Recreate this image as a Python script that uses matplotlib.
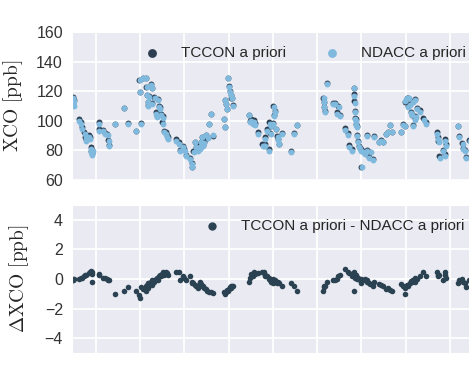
import numpy as np
import matplotlib
matplotlib.use("Agg")
import matplotlib.pyplot as plt
import seaborn as sns

# decimal year of each observation
dates = [2011.735, 2011.74, 2011.745, 2011.75, 2011.81, 2011.83, 2011.84, 2011.87,
         2011.88, 2011.89, 2011.92, 2011.93, 2011.94, 2011.945, 2011.95, 2011.955,
         2011.96, 2012.03, 2012.035, 2012.08, 2012.10, 2012.13, 2012.14, 2012.145,
         2012.21, 2012.32, 2012.36, 2012.45, 2012.49, 2012.495, 2012.51, 2012.53,
         2012.56, 2012.57, 2012.58, 2012.585, 2012.59, 2012.60, 2012.62, 2012.63,
         2012.635, 2012.66, 2012.68, 2012.69, 2012.70, 2012.71, 2012.72, 2012.73,
         2012.75, 2012.76, 2012.77, 2012.79, 2012.80, 2012.81, 2012.90, 2012.94,
         2012.95, 2012.98, 2013.00, 2013.02, 2013.06, 2013.08, 2013.085, 2013.10,
         2013.12, 2013.13, 2013.14, 2013.15, 2013.16, 2013.17, 2013.18, 2013.19,
         2013.20, 2013.21, 2013.22, 2013.24, 2013.26, 2013.28, 2013.30, 2013.32,
         2013.45, 2013.455, 2013.46, 2013.47, 2013.48, 2013.49, 2013.50, 2013.51,
         2013.52, 2013.53, 2013.54, 2013.55, 2013.73, 2013.74, 2013.75, 2013.77,
         2013.78, 2013.80, 2013.83, 2013.88, 2013.90, 2013.905, 2013.91, 2013.93,
         2013.95, 2013.96, 2013.97, 2013.98, 2014.00, 2014.005, 2014.01, 2014.02,
         2014.03, 2014.05, 2014.06, 2014.07, 2014.10, 2014.20, 2014.24, 2014.27,
         2014.57, 2014.575, 2014.58, 2014.585, 2014.61, 2014.68, 2014.70, 2014.72,
         2014.74, 2014.76, 2014.81, 2014.85, 2014.86, 2014.89, 2014.91, 2014.915,
         2014.92, 2014.925, 2014.93, 2014.935, 2014.94, 2014.945, 2014.95, 2014.96,
         2014.97, 2014.98, 2014.99, 2015.00, 2015.02, 2015.04, 2015.06, 2015.065,
         2015.08, 2015.10, 2015.13, 2015.14, 2015.20, 2015.22, 2015.24, 2015.28,
         2015.30, 2015.32, 2015.34, 2015.45, 2015.47, 2015.49, 2015.495, 2015.51,
         2015.52, 2015.53, 2015.55, 2015.56, 2015.57, 2015.58, 2015.585, 2015.60,
         2015.605, 2015.61, 2015.63, 2015.66, 2015.70, 2015.73, 2015.85, 2015.86,
         2015.87, 2015.88, 2015.92, 2015.94, 2015.945, 2015.95, 2016.09, 2016.10,
         2016.14, 2016.15, 2016.17, 2016.18, 2016.22]

# NDACC a priori XCO [ppb]
ndacc = [116, 113, 111, 114, 101, 99, 95.5, 92,
         89, 87.5, 90, 88.5, 81.8, 79.5, 77.7, 78.5,
         80.5, 99, 94, 94, 92, 91, 87.5, 84,
         99, 109.5, 99, 94, 128.4, 120.5, 99, 129.5,
         129.5, 124, 118, 113.5, 111, 117, 125, 122.7,
         112.5, 116, 105.7, 103.4, 115, 110, 109, 104.5,
         99, 103, 93, 92, 89.8, 88.6, 87.5, 85.2,
         80.7, 83, 80.7, 77.3, 75, 71.6, 69.3, 80,
         86.4, 83, 81, 80.7, 82.5, 81.8, 84, 86.4,
         89.8, 84, 86, 91, 89, 99, 105.7, 91,
         102, 96.6, 115, 112.5, 109, 130, 124, 120.5,
         118, 116, 116, 111, 104.5, 100, 101, 99,
         100, 98, 92, 84, 84, 88.6, 84, 94,
         80.7, 99, 92, 97, 99, 110, 104, 107,
         95, 90, 88, 85, 92, 80, 92, 98,
         116.4, 113.6, 110, 107, 125.5, 112.5, 112.5, 105.7,
         110, 104, 94.3, 91, 83, 80.7, 122.7, 117.5,
         113, 106.8, 102, 101, 97.7, 96.6, 90.5, 86.4,
         83, 81.8, 80.7, 69.3, 79.5, 78.4, 80.7, 90.5,
         76, 79.5, 74.5, 89.8, 86.4, 87.5, 86.4, 92,
         93, 98, 93, 93, 98, 97, 114, 116,
         110.5, 116, 111.6, 106, 104.5, 113.6, 97.5, 115,
         101.5, 103.4, 109, 107, 101.5, 99, 92, 88.6,
         86.4, 76, 80.7, 87.5, 77.3, 84, 97, 90,
         85, 81.8, 80.7, 76, 87]

# TCCON a priori - NDACC a priori [ppb]
delta = [-0.1, -0.1, 0.0, 0.0, 0.0, 0.1, 0.1, 0.2,
         0.3, 0.3, 0.4, 0.5, 0.55, 0.45, 0.35, 0.45,
         -0.2, 0.35, 0.3, 0.1, 0.05, 0.0, -0.1, -0.1,
         -1.0, -0.8, -0.56, -0.8, -1.1, -1.3, -0.56, -0.7,
         -0.5, -0.8, -0.4, -0.6, -0.3, -0.3, -0.2, -0.4,
         -0.1, -0.2, 0.0, 0.1, -0.1, 0.2, 0.3, 0.2,
         0.35, 0.45, 0.3, 0.45, 0.4, 0.3, 0.45, 0.45,
         -0.1, 0.2, 0.1, -0.1, 0.2, -0.2, -0.3, -0.3,
         -0.4, -0.45, -0.5, -0.6, -0.45, -0.2, -0.3, -0.35,
         -0.45, -0.5, -0.6, -0.7, -0.8, -0.9, -0.9, -0.95,
         -0.9, -1.0, -0.95, -0.85, -0.75, -0.8, -0.7, -0.56,
         -0.6, -0.45, -0.5, -0.45, -0.2, 0.1, 0.34, 0.2,
         0.45, 0.34, 0.4, 0.45, 0.45, 0.3, 0.2, 0.2,
         0.1, 0.0, -0.1, -0.2, -0.3, 0.0, -0.2, -0.1,
         -0.2, -0.3, -0.2, -0.3, -0.45, -0.3, -0.45, -0.8,
         -0.8, -0.56, -0.45, -0.5, -0.2, -0.1, -0.1, 0.0,
         0.2, 0.3, 0.7, 0.5, 0.4, 0.2, -0.8, 0.45,
         0.3, 0.1, 0.2, 0.3, 0.2, 0.1, 0.0, 0.1,
         0.0, -0.1, 0.0, -0.3, -0.1, 0.0, -0.2, -0.1,
         -0.3, -0.35, -0.45, -0.2, -0.35, -0.4, -0.5, -0.7,
         -0.6, -0.75, -0.8, -0.35, -0.45, -0.6, -1.0, -0.4,
         -0.4, -0.45, -0.3, -0.15, -0.2, -0.1, -0.1, -0.2,
         0.1, 0.0, 0.0, 0.2, 0.45, 0.2, 0.45, 0.2,
         0.3, 0.25, -0.1, 0.45, 0.3, 0.1, -0.3, -0.1,
         0.0, -0.2, -0.3, -0.55, -0.1]

dates = np.array(dates)
ndacc = np.array(ndacc)
delta = np.array(delta)
tccon = ndacc + delta

sns.set_style("darkgrid")
plt.rcParams["font.family"] = ["Liberation Sans", "DejaVu Sans"]
plt.rcParams["mathtext.fontset"] = "cm"

dark = "#2c3e50"
light = "#7fb9de"

fig = plt.figure(figsize=(4.69, 3.66), dpi=100)
ax1 = fig.add_axes([0.1535, 0.508, 0.9126, 0.4044])
ax2 = fig.add_axes([0.1535, 0.0355, 0.9126, 0.4044])

ax1.scatter(dates, tccon, s=18, color=dark, linewidths=0, label="TCCON a priori")
ax1.scatter(dates + 0.002, ndacc - 0.8, s=18, color=light, linewidths=0,
            label="NDACC a priori")
ax2.scatter(dates, delta, s=16, color="#2b4252", linewidths=0,
            label="TCCON a priori - NDACC a priori")

xticks = np.arange(2012.0, 2016.6, 0.5)
for ax in (ax1, ax2):
    ax.set_xlim(2011.729, 2016.565)
    ax.set_xticks(xticks)
    ax.set_xticklabels([])
    ax.tick_params(axis="y", labelsize=11.5, pad=3, colors="#333333")
    ax.grid(True, color="white", linewidth=1.3)

ax1.set_ylim(60, 160)
ax1.set_yticks([60, 80, 100, 120, 140, 160])
ax2.set_ylim(-5, 5)
ax2.set_yticks([-4, -2, 0, 2, 4])

ax1.set_ylabel(r"$\mathrm{XCO\ [ppb]}$", fontsize=14)
ax1.yaxis.set_label_coords(-0.11, 0.5)
ax2.set_ylabel(r"$\Delta\mathrm{XCO\ [ppb]}$", fontsize=14)
ax2.yaxis.set_label_coords(-0.095, 0.5)

ax1.legend(loc="upper left", bbox_to_anchor=(0.12, 1.0), ncol=2, frameon=False,
           fontsize=11, markerscale=1.5, columnspacing=2.0, handletextpad=0.9)
ax2.legend(loc="upper left", bbox_to_anchor=(0.26, 1.0), frameon=False,
           fontsize=11, markerscale=1.5, handletextpad=0.9)

fig.savefig("out.png", dpi=100)
